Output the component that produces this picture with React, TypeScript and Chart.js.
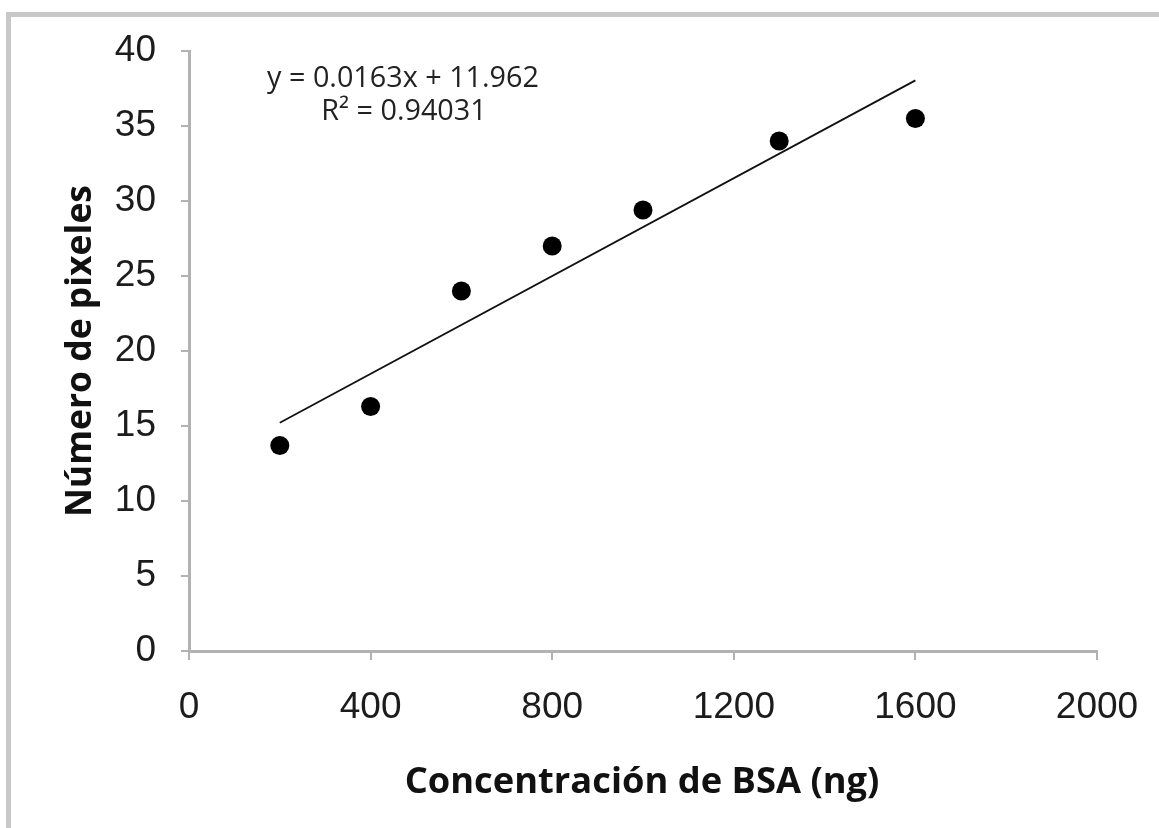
import { useEffect, useRef } from "react";
import { Chart, registerables } from "chart.js";

Chart.register(...registerables);

// ---- data ----
const concentrations = [200, 400, 600, 800, 1000, 1300, 1600];
const pixelCounts = [13.7, 16.3, 24, 27, 29.4, 34, 35.5];
const trendSlope = 0.0163;
const trendIntercept = 11.962;
const trendRange = [200, 1600];
const equationLines = ["y = 0.0163x + 11.962", "R² = 0.94031"];
const xTickValues = [0, 400, 800, 1200, 1600, 2000];
const yTickValues = [0, 5, 10, 15, 20, 25, 30, 35, 40];
const xTitle = "Concentración de BSA (ng)";
const yTitle = "Número de pixeles";

const W = 1159;
const H = 828;
const AXIS_GRAY = "#b2b2b2";
const TICK_FONT = "'Liberation Sans', Arial, sans-serif";
const TEXT_FONT = "'Open Sans', 'Noto Sans', sans-serif";

function fitSize(ctx: CanvasRenderingContext2D, text: string, weight: string, family: string, target: number) {
  ctx.font = `${weight} 100px ${family}`;
  return (100 * target) / ctx.measureText(text).width;
}

const decorPlugin = {
  id: "decor",
  beforeDraw(chart: any) {
    const ctx = chart.ctx as CanvasRenderingContext2D;
    ctx.save();
    ctx.fillStyle = "#ffffff";
    ctx.fillRect(0, 0, W, H);
    ctx.fillStyle = "#c8c8c8";
    ctx.fillRect(6, 12, W - 6, 5);
    ctx.fillRect(6, 12, 5, H - 12);
    ctx.restore();
  },
  afterDraw(chart: any) {
    const ctx = chart.ctx as CanvasRenderingContext2D;
    ctx.save();
    ctx.fillStyle = "#111111";
    // x title
    const xs = fitSize(ctx, xTitle, "bold", TEXT_FONT, 475);
    ctx.font = `bold ${xs}px ${TEXT_FONT}`;
    ctx.textAlign = "center";
    ctx.textBaseline = "alphabetic";
    ctx.fillText(xTitle, 642, 793);
    // y title
    const ys = fitSize(ctx, yTitle, "bold", TEXT_FONT, 332);
    ctx.font = `bold ${ys}px ${TEXT_FONT}`;
    ctx.translate(91, 351);
    ctx.rotate(-Math.PI / 2);
    ctx.fillText(yTitle, 0, 0);
    ctx.setTransform(1, 0, 0, 1, 0, 0);
    ctx.restore();

    ctx.save();
    ctx.fillStyle = "#222222";
    const es = fitSize(ctx, equationLines[0], "normal", TEXT_FONT, 272);
    ctx.font = `normal ${es}px ${TEXT_FONT}`;
    ctx.textAlign = "center";
    ctx.textBaseline = "alphabetic";
    ctx.fillText(equationLines[0], 403, 87);
    ctx.fillText(equationLines[1], 404, 120);
    ctx.restore();
  },
};

export default function App() {
  const ref = useRef<HTMLCanvasElement | null>(null);

  useEffect(() => {
    if (!ref.current) return;
    const points = concentrations.map((x, i) => ({ x, y: pixelCounts[i] }));
    const trend = trendRange.map((x) => ({ x, y: trendSlope * x + trendIntercept }));

    const chart = new Chart(ref.current, {
      type: "scatter",
      data: {
        datasets: [
          {
            label: "Datos",
            data: points,
            backgroundColor: "#000000",
            borderColor: "#000000",
            borderWidth: 0,
            pointRadius: 9.5,
            pointStyle: "circle",
          },
          {
            label: "Lineal",
            data: trend,
            showLine: true,
            borderColor: "#111111",
            borderWidth: 1.8,
            pointRadius: 0,
            fill: false,
          } as any,
        ],
      },
      options: {
        responsive: false,
        animation: false,
        devicePixelRatio: 1,
        layout: { padding: { top: 51, right: 62, left: 0, bottom: 0 } },
        plugins: {
          legend: { display: false },
          tooltip: { enabled: false },
        },
        scales: {
          x: {
            type: "linear",
            min: 0,
            max: 2000,
            afterFit: (s: any) => {
              s.height = H - 651;
              s.paddingRight = 0;
              s.paddingLeft = 0;
            },
            afterBuildTicks: (s: any) => {
              s.ticks = xTickValues.map((v) => ({ value: v }));
            },
            ticks: {
              font: { family: TICK_FONT, size: 37 },
              color: "#1c1c1c",
              padding: 26,
              maxRotation: 0,
              autoSkip: false,
              callback: (v: any) => String(v),
            },
            grid: {
              drawOnChartArea: false,
              drawTicks: true,
              tickLength: 9,
              color: AXIS_GRAY,
              lineWidth: 2,
            },
            border: { color: AXIS_GRAY, width: 3 },
          },
          y: {
            type: "linear",
            min: 0,
            max: 40,
            afterFit: (s: any) => {
              s.width = 189;
              s.paddingTop = 0;
              s.paddingBottom = 0;
            },
            afterBuildTicks: (s: any) => {
              s.ticks = yTickValues.map((v) => ({ value: v }));
            },
            ticks: {
              font: { family: TICK_FONT, size: 37 },
              color: "#1c1c1c",
              padding: 25,
              autoSkip: false,
              callback: (v: any) => String(v),
            },
            grid: {
              drawOnChartArea: false,
              drawTicks: true,
              tickLength: 8,
              color: AXIS_GRAY,
              lineWidth: 2,
            },
            border: { color: AXIS_GRAY, width: 3 },
          },
        },
      },
      plugins: [decorPlugin],
    });
    return () => chart.destroy();
  }, []);

  return (
    <div style={{ position: "absolute", left: 0, top: 0, width: W, height: H, background: "#fff" }}>
      <canvas ref={ref} width={W} height={H} style={{ width: W, height: H, display: "block" }} />
    </div>
  );
}
